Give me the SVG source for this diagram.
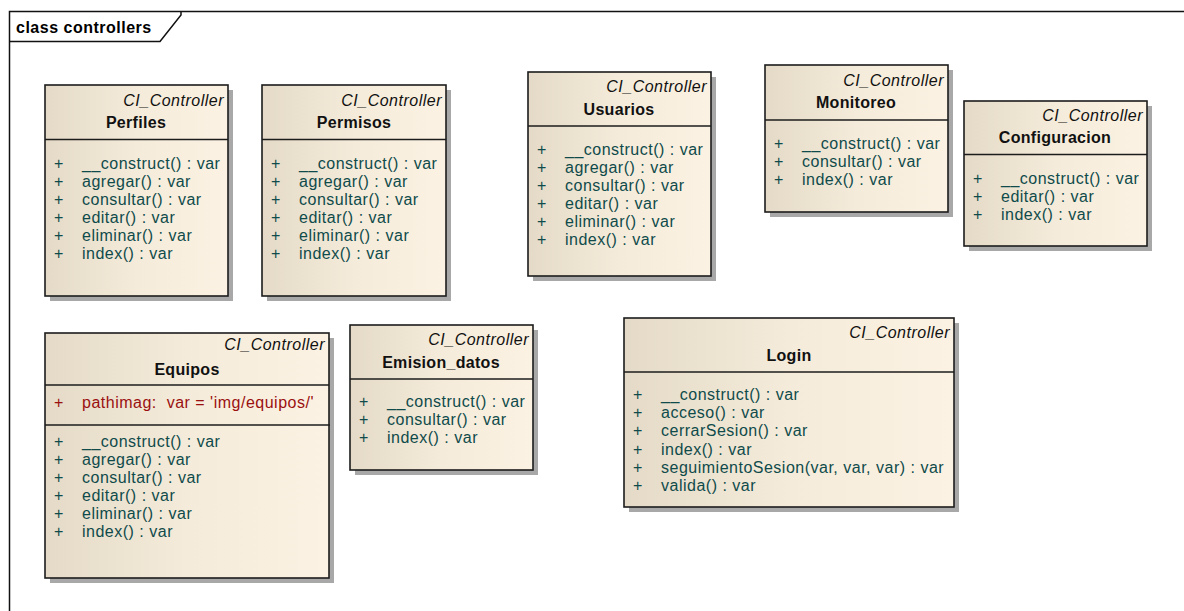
<svg xmlns="http://www.w3.org/2000/svg" width="1184" height="611" viewBox="0 0 1184 611">
<style>
.frame{fill:none;stroke:#111;stroke-width:1.5}
.ftitle{font-family:"Liberation Sans",Arial,sans-serif;font-size:16px;font-weight:bold;fill:#000;letter-spacing:0.5px}
.shadow{fill:#a8a8a8}
.box{fill:url(#bg);stroke:#1c1c1c;stroke-width:1.6}
.sep{stroke:#1c1c1c;stroke-width:1.6}
.stereo{font-family:"Liberation Sans",Arial,sans-serif;font-size:16px;font-style:italic;fill:#111;letter-spacing:0.5px;text-anchor:end}
.name{font-family:"Liberation Sans",Arial,sans-serif;font-size:16px;font-weight:bold;fill:#111;letter-spacing:0.3px;text-anchor:middle}
.op{font-family:"Liberation Sans",Arial,sans-serif;font-size:16px;fill:#0f4b4b;letter-spacing:0.5px}
.attr{font-family:"Liberation Sans",Arial,sans-serif;font-size:16px;fill:#9a1010;letter-spacing:0.5px;white-space:pre}
</style>
<defs>
<linearGradient id="bg" x1="0" y1="0" x2="1" y2="0">
<stop offset="0" stop-color="#e4dac7"/>
<stop offset="0.5" stop-color="#f5ebda"/>
<stop offset="1" stop-color="#fcf2e3"/>
</linearGradient>
</defs>
<rect width="1184" height="611" fill="#fff"/>
<g id="frame">
<path class="frame" d="M9.5,611 V11.5 H1184"/>
<path class="frame" d="M9.5,41.5 H160 L181,15 V11.5"/>
<text class="ftitle" x="16" y="33">class controllers</text>
</g>
<g id="connectors"></g>

<g id="Perfiles">
<rect class="shadow" x="50" y="90" width="183" height="211"/>
<rect class="box" x="45" y="85" width="183" height="211"/>
<line class="sep" x1="45" y1="139.5" x2="228" y2="139.5"/>
<text class="stereo" x="224" y="106">CI_Controller</text>
<text class="name" x="136" y="128">Perfiles</text>
<g class="op">
<text x="54" y="169">+</text><text x="82" y="169">__construct() : var</text>
<text x="54" y="187">+</text><text x="82" y="187">agregar() : var</text>
<text x="54" y="205">+</text><text x="82" y="205">consultar() : var</text>
<text x="54" y="223">+</text><text x="82" y="223">editar() : var</text>
<text x="54" y="241">+</text><text x="82" y="241">eliminar() : var</text>
<text x="54" y="259">+</text><text x="82" y="259">index() : var</text>
</g>
</g>

<g id="Permisos">
<rect class="shadow" x="267" y="90" width="184" height="211"/>
<rect class="box" x="262" y="85" width="184" height="211"/>
<line class="sep" x1="262" y1="139.5" x2="446" y2="139.5"/>
<text class="stereo" x="442" y="106">CI_Controller</text>
<text class="name" x="354" y="128">Permisos</text>
<g class="op">
<text x="271" y="169">+</text><text x="299" y="169">__construct() : var</text>
<text x="271" y="187">+</text><text x="299" y="187">agregar() : var</text>
<text x="271" y="205">+</text><text x="299" y="205">consultar() : var</text>
<text x="271" y="223">+</text><text x="299" y="223">editar() : var</text>
<text x="271" y="241">+</text><text x="299" y="241">eliminar() : var</text>
<text x="271" y="259">+</text><text x="299" y="259">index() : var</text>
</g>
</g>

<g id="Usuarios">
<rect class="shadow" x="533" y="77" width="183" height="204"/>
<rect class="box" x="528" y="72" width="183" height="204"/>
<line class="sep" x1="528" y1="126" x2="711" y2="126"/>
<text class="stereo" x="707" y="92">CI_Controller</text>
<text class="name" x="619" y="115">Usuarios</text>
<g class="op">
<text x="537" y="155">+</text><text x="565" y="155">__construct() : var</text>
<text x="537" y="173">+</text><text x="565" y="173">agregar() : var</text>
<text x="537" y="191">+</text><text x="565" y="191">consultar() : var</text>
<text x="537" y="209">+</text><text x="565" y="209">editar() : var</text>
<text x="537" y="227">+</text><text x="565" y="227">eliminar() : var</text>
<text x="537" y="245">+</text><text x="565" y="245">index() : var</text>
</g>
</g>

<g id="Monitoreo">
<rect class="shadow" x="770" y="70" width="183" height="147"/>
<rect class="box" x="765" y="65" width="183" height="147"/>
<line class="sep" x1="765" y1="120" x2="948" y2="120"/>
<text class="stereo" x="944" y="86">CI_Controller</text>
<text class="name" x="856" y="108">Monitoreo</text>
<g class="op">
<text x="774" y="149">+</text><text x="802" y="149">__construct() : var</text>
<text x="774" y="167">+</text><text x="802" y="167">consultar() : var</text>
<text x="774" y="185">+</text><text x="802" y="185">index() : var</text>
</g>
</g>

<g id="Configuracion">
<rect class="shadow" x="969" y="106" width="183" height="145"/>
<rect class="box" x="964" y="101" width="183" height="145"/>
<line class="sep" x1="964" y1="154.5" x2="1147" y2="154.5"/>
<text class="stereo" x="1143" y="121">CI_Controller</text>
<text class="name" x="1055" y="143">Configuracion</text>
<g class="op">
<text x="973" y="184">+</text><text x="1001" y="184">__construct() : var</text>
<text x="973" y="202">+</text><text x="1001" y="202">editar() : var</text>
<text x="973" y="220">+</text><text x="1001" y="220">index() : var</text>
</g>
</g>

<g id="Equipos">
<rect class="shadow" x="50" y="338" width="284" height="245"/>
<rect class="box" x="45" y="333" width="284" height="245"/>
<line class="sep" x1="45" y1="385" x2="329" y2="385"/>
<line class="sep" x1="45" y1="425" x2="330" y2="425"/>
<text class="stereo" x="325" y="350">CI_Controller</text>
<text class="name" x="187" y="375">Equipos</text>
<text class="attr" x="54" y="408">+</text><text class="attr" x="82" y="408" xml:space="preserve">pathimag:  var = 'img/equipos/'</text>
<g class="op">
<text x="54" y="447">+</text><text x="82" y="447">__construct() : var</text>
<text x="54" y="465">+</text><text x="82" y="465">agregar() : var</text>
<text x="54" y="483">+</text><text x="82" y="483">consultar() : var</text>
<text x="54" y="501">+</text><text x="82" y="501">editar() : var</text>
<text x="54" y="519">+</text><text x="82" y="519">eliminar() : var</text>
<text x="54" y="537">+</text><text x="82" y="537">index() : var</text>
</g>
</g>

<g id="Emision_datos">
<rect class="shadow" x="355" y="330" width="183" height="145"/>
<rect class="box" x="350" y="325" width="183" height="145"/>
<line class="sep" x1="350" y1="379" x2="533" y2="379"/>
<text class="stereo" x="529" y="345">CI_Controller</text>
<text class="name" x="441" y="368">Emision_datos</text>
<g class="op">
<text x="359" y="407">+</text><text x="387" y="407">__construct() : var</text>
<text x="359" y="425">+</text><text x="387" y="425">consultar() : var</text>
<text x="359" y="443">+</text><text x="387" y="443">index() : var</text>
</g>
</g>

<g id="Login">
<rect class="shadow" x="629" y="323" width="330" height="189"/>
<rect class="box" x="624" y="318" width="330" height="189"/>
<line class="sep" x1="624" y1="372" x2="954" y2="372"/>
<text class="stereo" x="950" y="338">CI_Controller</text>
<text class="name" x="789" y="361">Login</text>
<g class="op">
<text x="633" y="400">+</text><text x="661" y="400">__construct() : var</text>
<text x="633" y="418">+</text><text x="661" y="418">acceso() : var</text>
<text x="633" y="436">+</text><text x="661" y="436">cerrarSesion() : var</text>
<text x="633" y="455">+</text><text x="661" y="455">index() : var</text>
<text x="633" y="473">+</text><text x="661" y="473">seguimientoSesion(var, var, var) : var</text>
<text x="633" y="491">+</text><text x="661" y="491">valida() : var</text>
</g>
</g>
</svg>
